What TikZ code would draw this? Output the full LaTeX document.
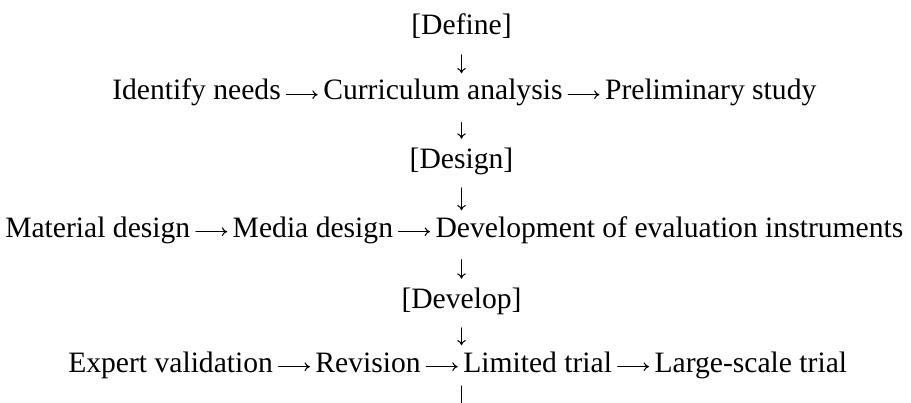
\documentclass[tikz,border=0pt]{standalone}
\usepackage{fontspec}
\setmainfont{Liberation Serif}
\usetikzlibrary{positioning,arrows.meta}
\begin{document}
\begin{tikzpicture}[x=0.75pt, y=-0.75pt, font=\fontsize{22.2}{26}\selectfont, line cap=round, >={To[length=4pt,width=6.5pt]},
		stage/.style={inner sep=0pt, anchor=base},
		item/.style={inner sep=0pt},
		flow/.style={->, line width=0.8pt, shorten <=4pt, shorten >=4pt},
		intorow/.style={->, line width=0.8pt, shorten <=15pt, shorten >=20pt},
		fromrow/.style={->, line width=0.8pt, shorten <=17pt, shorten >=22pt},
		node distance=31.5pt]
				\useasboundingbox (0,0) rectangle (911,403);
				\clip (0,0) rectangle (911,403);
				% stages
				\node[stage] (define) at (461.5,35) {[Define]};
				\node[stage] (design) at (461.5,168) {[Design]};
				\node[stage] (develop) at (461.5,308) {[Develop]};
				% rows of steps
				\node[item, anchor=base west] (r1a) at (112,100) {Identify needs};
				\node[item, base right=of r1a] (r1b) {Curriculum analysis};
				\node[item, base right=of r1b] (r1c) {Preliminary study};
				\node[item, anchor=base west] (r2a) at (5,237) {Material design};
				\node[item, base right=of r2a] (r2b) {Media design};
				\node[item, base right=of r2b] (r2c) {Development of evaluation instruments};
				\node[item, anchor=base west] (r3a) at (68,372) {Expert validation};
				\node[item, base right=of r3a] (r3b) {Revision};
				\node[item, base right=of r3b] (r3c) {Limited trial};
				\node[item, base right=of r3c] (r3d) {Large-scale trial};
				\coordinate (tail) at (461.5,430);
				% arrows
				\foreach \a/\b in {r1a/r1b,r1b/r1c,r2a/r2b,r2b/r2c,r3a/r3b,r3b/r3c,r3c/r3d}
					\draw[flow] ([yshift=4pt]\a.base east)--([yshift=4pt]\b.base west);
				\draw[intorow] (define.base)--(define.base |- r1a.base);
				\draw[fromrow] (design.base |- r1a.base)--(design.base);
				\draw[intorow] (design.base)--(design.base |- r2a.base);
				\draw[fromrow] (develop.base |- r2a.base)--(develop.base);
				\draw[intorow] (develop.base)--(develop.base |- r3a.base);
				\draw[->, line width=0.8pt, shorten <=10.5pt] (tail |- r3a.base)--(tail);
\end{tikzpicture}
\end{document}
